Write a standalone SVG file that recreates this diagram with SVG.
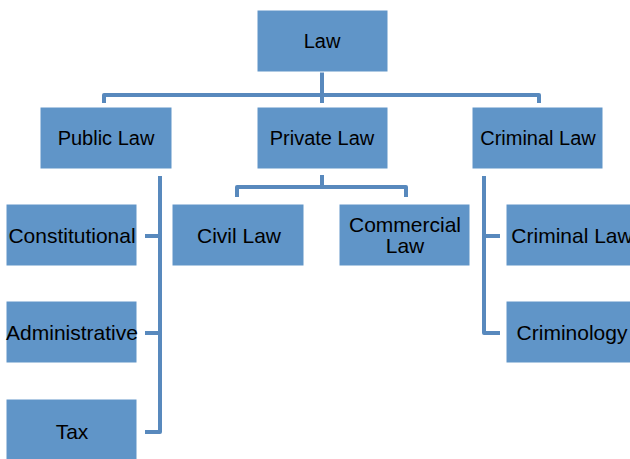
<svg xmlns="http://www.w3.org/2000/svg" width="630" height="459" viewBox="0 0 630 459">
<style>
.box{fill:#6095C8;stroke:#FFFFFF;stroke-width:1}
.t{font-family:"Liberation Sans",Arial,sans-serif;font-size:20px;fill:#000;text-anchor:middle}
.s{font-family:"Liberation Sans",Arial,sans-serif;font-size:21px;fill:#000;text-anchor:middle}
.c{fill:none;stroke:#5889BD;stroke-width:4;stroke-linejoin:round}
</style>
<rect width="630" height="459" fill="#FFFFFF"/>
<g id="connectors">
<path class="c" d="M322,72 V103 M104,103 V95 H539 V103"/>
<path class="c" d="M322,175 V187 M237,197 V187 H406 V197"/>
<path class="c" d="M160,176 V432 H145 M145,236 H160 M145,333 H160"/>
<path class="c" d="M484,176 V333 H500 M484,236 H500"/>
</g>
<g id="law"><rect class="box" x="257" y="10" width="131" height="62"/><text class="t" x="322" y="48">Law</text></g>
<g id="public"><rect class="box" x="40" y="107" width="132" height="62"/><text class="t" x="106" y="145">Public Law</text></g>
<g id="private"><rect class="box" x="257" y="107" width="131" height="62"/><text class="t" x="322" y="145">Private Law</text></g>
<g id="criminal"><rect class="box" x="472" y="107" width="131" height="62"/><text class="t" x="538" y="145">Criminal Law</text></g>
<g id="constitutional"><rect class="box" x="6" y="204" width="131" height="62"/><text class="s" x="72" y="243">Constitutional</text></g>
<g id="administrative"><rect class="box" x="6" y="301" width="131" height="62"/><text class="s" x="72" y="340">Administrative</text></g>
<g id="tax"><rect class="box" x="6" y="399" width="131" height="62"/><text class="s" x="72" y="439">Tax</text></g>
<g id="civil"><rect class="box" x="172" y="204" width="132" height="62"/><text class="s" x="239" y="243">Civil Law</text></g>
<g id="commercial"><rect class="box" x="339" y="204" width="131" height="62"/><text class="s" x="405" y="232">Commercial</text><text class="s" x="405" y="253">Law</text></g>
<g id="criminal-law"><rect class="box" x="506" y="204" width="131" height="62"/><text class="s" x="572" y="243">Criminal Law</text></g>
<g id="criminology"><rect class="box" x="506" y="301" width="131" height="62"/><text class="s" x="572" y="340">Criminology</text></g>
</svg>
